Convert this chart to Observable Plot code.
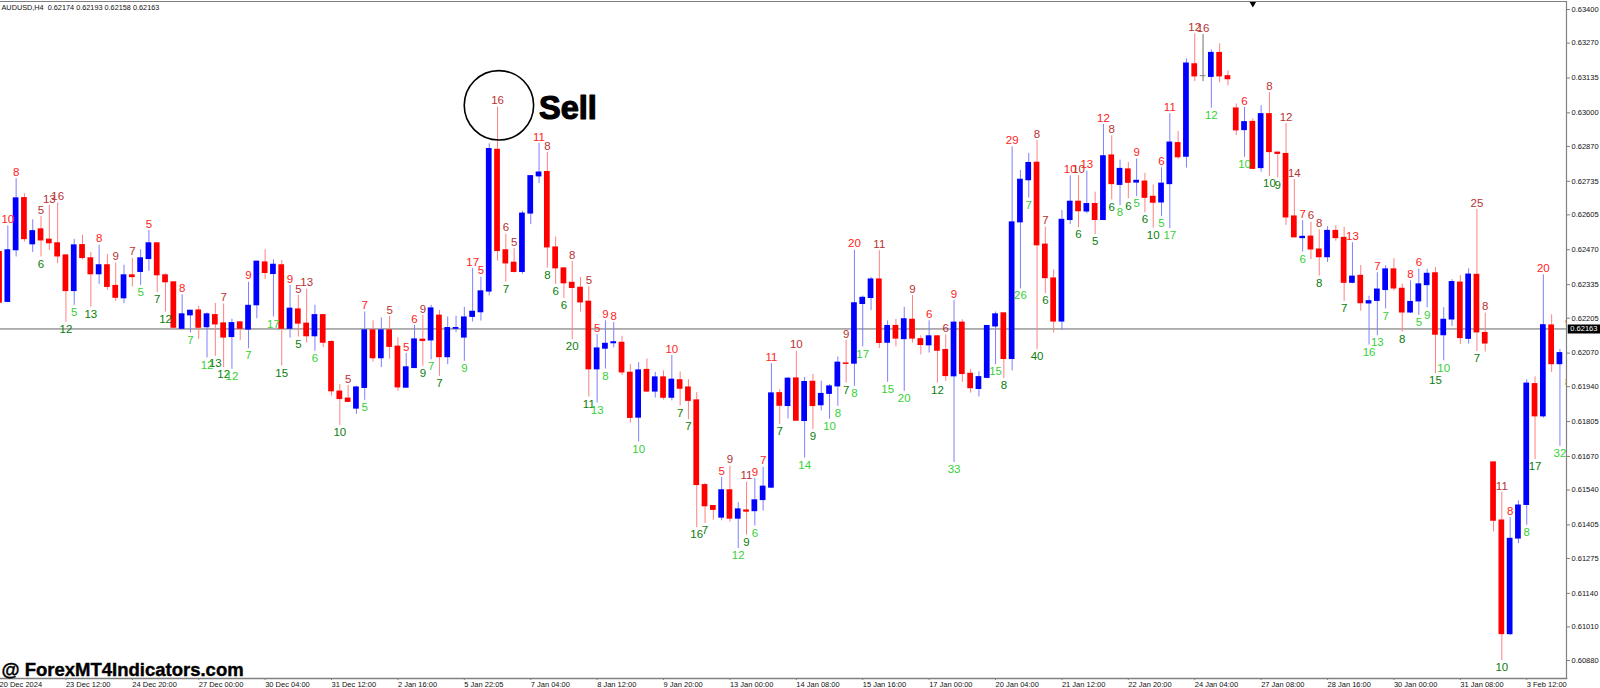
<!DOCTYPE html>
<html>
<head>
<meta charset="utf-8">
<style>
  html, body { margin: 0; padding: 0; background: #fff; }
  svg { display: block; }
</style>
<script src="https://cdn.jsdelivr.net/npm/d3@7"></script>
<script src="https://cdn.jsdelivr.net/npm/@observablehq/plot@0.6"></script>
</head>
<body>
<div id="chart"></div>
<script>
// Prices are in points (1e-5). Bars run from index -1 to 187.
const firstBar = -1;
const direction =
  "R" +
  "BBRBRRRRBR" + "RBRRBRBBRR" + "RBBRBRRBRB" + "BRBRBRRBRR" + "RRBBRBRRBB" +
  "RBRBBBBBBR" + "RRBBBRRRRR" + "RBBBRRBRBR" + "BRRRRRBRBR" + "BBBRBRBRBB" +
  "BRBBBRBRBR" + "RBRRBRRBBB" + "RBBBRRRBBR" + "BRBRBRBRRB" + "BRBRGBRRRB" +
  "RBRRRRBRRB" + "RRBRBBBRRB" + "BBRBBRBRRR" + "RBBBRBRB";
const high = [62470,
  62562,62745,62687,62586,62599,62642,62651,62452,62510,62526,
  62460,62488,62452,62419,62410,62437,62470,62545,62495,62377,
  62344,62296,62235,62251,62225,62262,62260,62201,62190,62344,
  62425,62470,62431,62428,62332,62293,62317,62255,62219,62118,
  61949,61945,61941,62229,62195,62206,62212,62130,62069,62177,
  62216,62255,62235,62210,62213,62247,62398,62364,62880,63022,
  62530,62474,62619,62757,62882,62846,62519,62399,62425,62363,
  62326,62141,62195,62188,62135,62025,62033,62047,61995,62001,
  62061,61997,61967,61917,61565,61479,61589,61632,61491,61570,
  61585,61628,62029,61928,61974,62077,61976,61988,61961,61948,
  62055,62119,62468,62291,62363,62466,62195,62201,62247,62293,
  62137,62195,62137,62141,62274,62199,62007,61998,62175,62229,
  62224,62868,62777,62843,62893,62558,62392,62622,62756,62757,
  62774,62693,62955,62911,62817,62808,62821,62766,62721,62787,
  62997,62928,63209,63306,63303,63244,63267,63162,63034,63021,
  62977,63028,63079,62848,62959,62742,62583,62577,62547,62559,
  62564,62557,62497,62409,62290,62381,62408,62435,62337,62350,
  62395,62394,62401,62246,62354,62370,62396,62626,62225,61647,
  61531,61433,61498,61967,61978,62373,62218,62084];
const bodyTop = [62461,
  62468,62669,62670,62542,62549,62509,62495,62448,62487,62488,
  62437,62410,62410,62330,62371,62371,62437,62495,62495,62371,
  62344,62220,62234,62235,62220,62217,62185,62186,62189,62253,
  62424,62421,62412,62410,62242,62239,62184,62217,62217,62113,
  61921,61894,61937,62158,62158,62158,62158,62095,62015,62123,
  62122,62243,62215,62167,62167,62208,62230,62309,62860,62857,
  62468,62420,62610,62755,62769,62771,62479,62398,62342,62323,
  62269,62088,62106,62112,62110,61994,62003,62005,61976,61976,
  61967,61965,61937,61887,61559,61478,61539,61539,61465,61461,
  61500,61553,61914,61915,61971,61972,61958,61959,61912,61941,
  62033,62030,62263,62284,62355,62355,62175,62175,62201,62199,
  62124,62135,62135,62082,62188,62188,61990,61977,62175,62220,
  62224,62576,62741,62806,62807,62490,62359,62586,62656,62656,
  62647,62647,62832,62835,62783,62781,62737,62734,62675,62726,
  62885,62883,63191,63188,63142,63232,63232,63142,63017,62964,
  62965,62995,62995,62846,62841,62599,62520,62521,62471,62543,
  62543,62516,62366,62369,62271,62316,62394,62394,62319,62268,
  62336,62377,62379,62199,62345,62343,62374,62373,62148,61647,
  61422,61351,61480,61952,61950,62178,62177,62070];
const bodyBottom = [62265,
  62268,62468,62511,62491,62506,62495,62444,62310,62310,62438,
  62375,62375,62326,62284,62282,62364,62384,62434,62371,62344,
  62168,62164,62216,62168,62170,62181,62130,62132,62164,62161,
  62255,62380,62376,62164,62164,62184,62135,62135,62110,61922,
  61892,61881,61855,61935,62050,62050,62094,61937,61936,62012,
  62117,62119,62054,62054,62164,62130,62210,62228,62308,62465,
  62417,62384,62384,62610,62754,62479,62398,62340,62322,62266,
  62007,62007,62087,62108,61995,61819,61820,61921,61921,61897,
  61897,61932,61885,61559,61477,61463,61433,61429,61429,61456,
  61458,61501,61549,61866,61865,61808,61807,61865,61868,61912,
  61941,62028,62029,62260,62283,62109,62110,62126,62124,62126,
  62101,62100,62079,61981,61980,61989,61934,61931,61974,62173,
  62047,62047,62576,62739,62487,62360,62192,62192,62585,62619,
  62618,62585,62585,62724,62721,62729,62730,62671,62652,62653,
  62724,62828,62830,63141,63142,63139,63141,63130,62932,62933,
  62783,62786,62848,62841,62595,62518,62515,62471,62441,62441,
  62515,62342,62342,62263,62262,62272,62314,62320,62227,62227,
  62270,62333,62141,62139,62200,62128,62125,62150,62107,61421,
  60982,60982,61352,61482,61825,61825,62027,62027];
const low = [62255,
  62265,62442,62500,62459,62442,62468,62416,62190,62255,62431,
  62248,62336,62313,62270,62261,62326,62332,62386,62304,62229,
  62161,62158,62148,62123,62051,62057,62014,62007,62119,62087,
  62203,62355,62210,62020,62128,62132,62109,62077,62091,61904,
  61790,61878,61833,61887,62035,62014,62046,61922,61935,62010,
  62019,62044,61980,62025,62149,62038,62190,62194,62291,62426,
  62345,62380,62375,62567,62726,62399,62336,62281,62122,62229,
  61900,61877,62008,62090,61983,61799,61726,61917,61896,61888,
  61885,61865,61812,61394,61410,61423,61421,61416,61313,61365,
  61401,61458,61545,61794,61815,61808,61664,61774,61846,61814,
  61864,61954,61941,62094,62234,62088,61957,62094,61922,62109,
  62063,62070,61954,61961,61646,61957,61915,61900,61970,62025,
  61971,62001,62319,62670,62083,62300,62147,62158,62568,62555,
  62609,62529,62583,62663,62641,62667,62676,62613,62554,62599,
  62552,62819,62786,63121,63121,63018,63116,63104,62912,62828,
  62782,62770,62754,62748,62564,62516,62461,62432,62368,62421,
  62503,62270,62338,62232,62101,62137,62241,62310,62151,62223,
  62216,62245,61990,62040,62173,62103,62105,62076,62074,61378,
  60880,60976,61332,61403,61658,61818,61995,61709];
// [bar index, wick count]
const upperCounts = [[0,10],[1,8],[4,5],[5,13],[6,16],[11,8],[13,9],[15,7],[17,5],[21,8],[26,7],[29,9],
  [34,9],[35,5],[36,13],[41,5],[43,7],[46,5],[48,5],[49,6],[50,9],[56,17],[57,5],[59,16],[60,6],[61,5],
  [64,11],[65,8],[68,8],[70,5],[71,5],[72,9],[73,8],[80,10],[86,5],[87,9],[89,11],[90,9],[91,7],[92,11],
  [95,10],[101,9],[102,20],[105,11],[109,9],[111,6],[113,6],[114,9],[121,29],[124,8],[125,7],[128,10],
  [129,10],[130,13],[132,12],[133,8],[136,9],[139,6],[140,11],[143,12],[144,16],[149,6],[152,8],[154,12],
  [155,14],[156,7],[157,6],[158,8],[162,13],[165,7],[169,8],[170,6],[177,25],[178,8],[180,11],[181,8],[185,20]];
const lowerCounts = [[4,6],[7,12],[8,5],[10,13],[16,5],[18,7],[19,12],[22,7],[24,12],[25,13],[26,12],[27,12],
  [29,7],[32,17],[33,15],[35,5],[37,6],[40,10],[43,5],[50,9],[51,7],[52,7],[55,9],[60,7],[65,8],[66,6],[67,6],
  [68,20],[70,11],[71,13],[72,8],[76,10],[81,7],[82,7],[83,16],[84,7],[88,12],[89,9],[90,6],[93,7],[96,14],
  [97,9],[99,10],[100,8],[101,7],[102,8],[103,17],[106,15],[108,20],[112,12],[114,33],[119,15],[120,8],[122,26],
  [123,7],[124,40],[125,6],[129,6],[131,5],[133,6],[134,8],[135,6],[136,5],[137,6],[138,10],[139,5],[140,17],
  [145,12],[149,10],[152,10],[153,9],[156,6],[158,8],[161,7],[164,16],[165,13],[166,7],[168,8],[170,5],[171,9],
  [172,15],[173,10],[177,7],[180,10],[183,8],[184,17],[187,32]];
// labels of the live bar, mostly hidden behind the price axis: [bar, price, count]
const hiddenUpper = [[188, 62160, 9]];
const hiddenLower = [[188, 61983, 8]];
const priceTicks = [63400,63270,63135,63000,62870,62735,62605,62470,62335,62205,62070,61940,61805,61670,61540,61405,61275,61140,61010,60880];
const timeLabels = ["20 Dec 2024","23 Dec 12:00","24 Dec 20:00","27 Dec 00:00","30 Dec 04:00","31 Dec 12:00","2 Jan 16:00","5 Jan 22:05","7 Jan 04:00","8 Jan 12:00","9 Jan 20:00","13 Jan 00:00","14 Jan 08:00","15 Jan 16:00","17 Jan 00:00","20 Jan 04:00","21 Jan 12:00","22 Jan 20:00","24 Jan 04:00","27 Jan 08:00","28 Jan 16:00","30 Jan 00:00","31 Jan 08:00","3 Feb 12:00"];
const timeTickEvery = 8;
const currentPrice = 62163;
const header = "AUDUSD,H4  0.62174 0.62193 0.62158 0.62163";
const watermark = "@ ForexMT4Indicators.com";
const annotation = {label: "Sell", bar: 59, price: 63029};
const markerBar = 150;

const BODY = {B: "#0000ff", R: "#ff0000", G: "#808080"};
const WICK = {B: "#7f7fff", R: "#ff8080", G: "#707070"};
const UP_TEXT = {B: "#ff2222", R: "#b83232", G: "#b83232"};
const DOWN_TEXT = {B: "#38d038", R: "#0b7d0b", G: "#0b7d0b"};

const bars = high.map((h, k) => ({
  i: k + firstBar, kind: direction[k], high: h, top: bodyTop[k], bottom: bodyBottom[k], low: low[k]
}));
const byIndex = new Map(bars.map(b => [b.i, b]));
const upper = upperCounts.map(([i, n]) => ({i, n, price: byIndex.get(i).high, color: UP_TEXT[byIndex.get(i).kind]}))
  .concat(hiddenUpper.map(([i, price, n]) => ({i, n, price, color: UP_TEXT.B})));
const lower = lowerCounts.map(([i, n]) => ({i, n, price: byIndex.get(i).low, color: DOWN_TEXT[byIndex.get(i).kind]}))
  .concat(hiddenLower.map(([i, price, n]) => ({i, n, price, color: DOWN_TEXT.R})));
const timeTicks = timeLabels.map((_, k) => firstBar + k * timeTickEvery);
const fmtPrice = p => (p / 1e5).toFixed(5);
const halfBody = 0.345;
const AXIS = "#808080";
const FONT = "'Liberation Sans', Arial, sans-serif";

const chart = Plot.plot({
  width: 1600, height: 688,
  marginLeft: 0, marginRight: 34, marginTop: 1, marginBottom: 10,
  style: {fontFamily: FONT, background: "#fff", overflow: "visible"},
  x: {type: "linear", domain: [-0.883, 187.79], range: [0, 1566]},
  y: {type: "linear", domain: [63400, 60880], range: [9, 660]},
  marks: [
    Plot.ruleY([currentPrice], {x1: -0.883, x2: 187.79, stroke: "#666", strokeWidth: 1, dy: -0.1}),
    Plot.ruleX(bars, {x: "i", y1: "high", y2: "low", stroke: d => WICK[d.kind], strokeWidth: 1, clip: true}),
    Plot.rect(bars, {
      x1: d => d.i - halfBody, x2: d => d.i + halfBody, y1: "top", y2: "bottom",
      insetTop: -0.5, insetBottom: -0.5, fill: d => BODY[d.kind], clip: true
    }),
    Plot.text(upper, {x: "i", y: "price", text: d => String(d.n), fill: "color", dy: -6.5, fontSize: 11.5, clip: true}),
    Plot.text(lower, {x: "i", y: "price", text: d => String(d.n), fill: "color", dy: 7, fontSize: 11.5, clip: true}),
    Plot.dot([annotation], {x: "bar", y: "price", r: 34.7, dx: 1.4, stroke: "#000", strokeWidth: 1.6, fill: "none"}),
    Plot.text([annotation], {x: "bar", y: "price", text: "label", dx: 41.5, dy: 3.5, textAnchor: "start",
      fontSize: 32.5, fontWeight: 900, fill: "#000", stroke: "#000", strokeWidth: 1.2}),
    Plot.dot([markerBar], {x: d => d, y: () => 63423, symbol: "triangle", r: 2.6, rotate: 180, fill: "#000", stroke: "none"}),
    Plot.frame({anchor: "top", stroke: AXIS, strokeWidth: 1.2}),
    Plot.frame({anchor: "right", stroke: AXIS, strokeWidth: 1.2}),
    Plot.frame({anchor: "bottom", stroke: AXIS, strokeWidth: 1.6}),
    Plot.axisY({
      anchor: "right", ticks: priceTicks, tickFormat: fmtPrice, tickSize: 3, tickPadding: 2,
      fontSize: 7.5, fill: "#111", stroke: AXIS, label: null
    }),
    Plot.axisX({
      anchor: "bottom", ticks: timeTicks, tickFormat: i => timeLabels[(i - firstBar) / timeTickEvery],
      tickSize: 2, tickPadding: 1.5, textAnchor: "start", fontSize: 7.5, fill: "#111", stroke: AXIS, label: null
    }),
    Plot.ruleY([currentPrice], {x1: 188, x2: 192, stroke: "#000", strokeWidth: 9}),
    Plot.text([currentPrice], {x: 188.25, y: d => d, text: fmtPrice, textAnchor: "start", fontSize: 7.5, fill: "#fff"}),
    Plot.text([header], {frameAnchor: "top-left", dx: 1, dy: 3.5, fontSize: 7.3, fill: "#111"}),
    Plot.text([watermark], {frameAnchor: "bottom-left", dx: 1, dy: -2.5, fontSize: 18.5, fontWeight: 700, fill: "#000", stroke: "#000", strokeWidth: 0.4})
  ]
});
document.getElementById("chart").append(chart);
</script>
</body>
</html>
